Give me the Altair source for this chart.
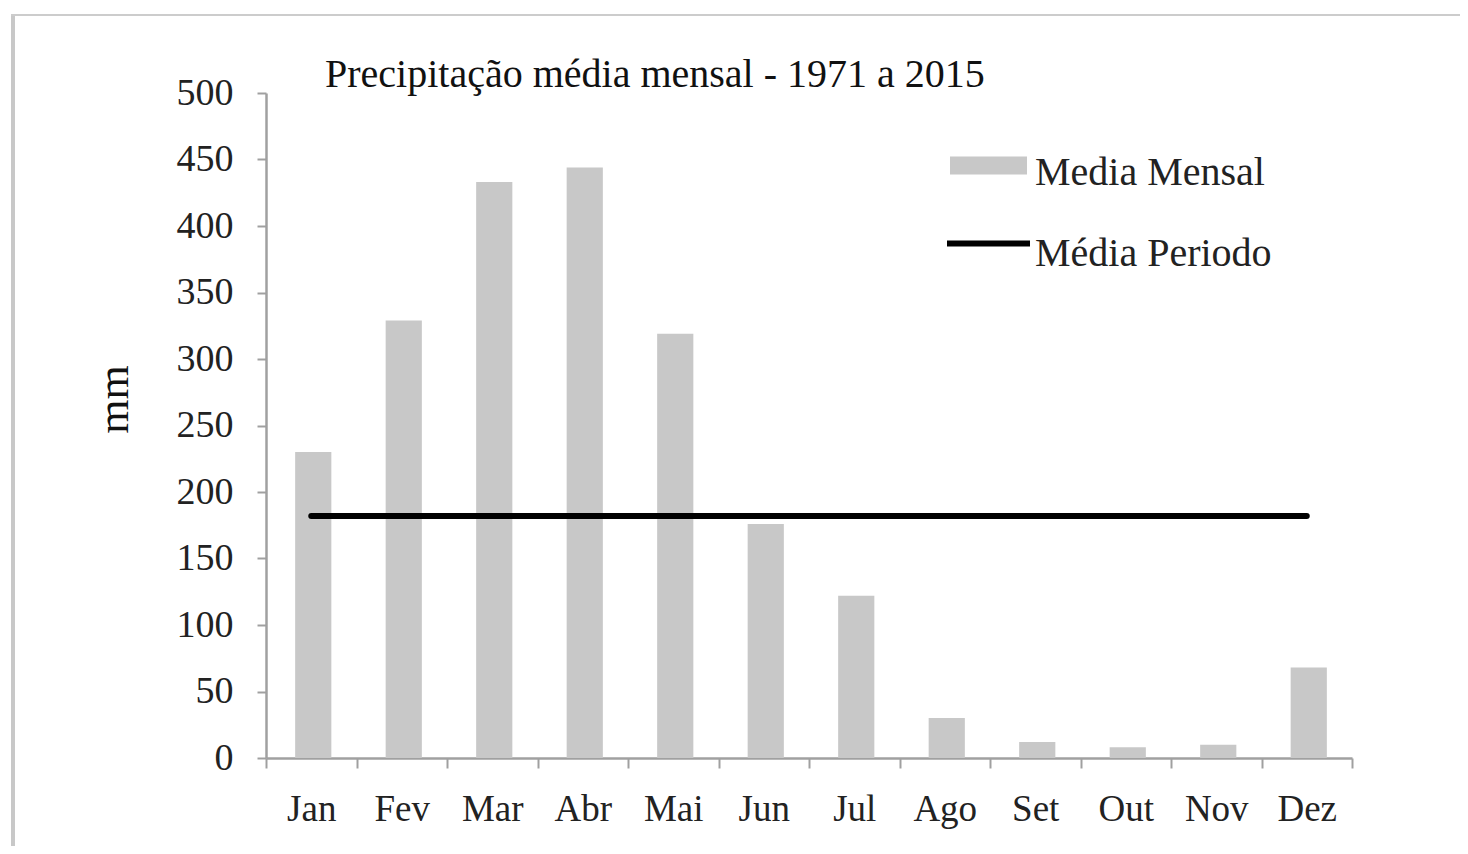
import altair as alt
import pandas as pd

months = ["Jan", "Fev", "Mar", "Abr", "Mai", "Jun", "Jul", "Ago", "Set", "Out", "Nov", "Dez"]
media_mensal = [230, 329, 433, 444, 319, 176, 122, 30, 12, 8, 10, 68]
media_periodo = [182] * 12
bar_label = "Media Mensal"
line_label = "Média Periodo"

bars_df = pd.DataFrame({"mes": months, "valor": media_mensal, "serie": bar_label})
line_df = pd.DataFrame({"mes": months, "valor": media_periodo, "serie2": line_label})

FONT = "Liberation Serif"

x_enc = alt.X("mes:N", sort=months, title=None,
              scale=alt.Scale(paddingInner=0, paddingOuter=0),
              axis=alt.Axis(labelAngle=0, labelFontSize=37, labelFont=FONT, labelColor="#222",
                            labelPadding=23, tickBand="extent", tickSize=10, tickWidth=2,
                            tickColor="#a0a0a0", domainColor="#a0a0a0", domainWidth=2.5))

y_scale = alt.Scale(domain=[0, 500], nice=False)
y_axis = alt.Axis(values=list(range(0, 501, 50)), labelFontSize=38, labelFont=FONT, labelColor="#222",
                  labelPadding=24, tickSize=9, tickWidth=2, tickColor="#a0a0a0",
                  domainColor="#a0a0a0", domainWidth=2.5, grid=False,
                  title="mm", titleFont=FONT, titleFontSize=44, titleFontWeight="normal",
                  titleColor="#111", titlePadding=40, titleY=306)

bars = alt.Chart(bars_df).mark_bar(width=alt.RelativeBandSize(0.4), xOffset=2).encode(
    x=x_enc,
    y=alt.Y("valor:Q", scale=y_scale, axis=y_axis),
    fill=alt.Fill("serie:N", scale=alt.Scale(domain=[bar_label], range=["#c8c8c8"]),
                  legend=alt.Legend(title=None, orient="none", legendX=684, legendY=41,
                                    symbolType="M-1,-0.416L1,-0.416L1,0.052L-1,0.052Z",
                                    symbolSize=5929, symbolStrokeWidth=0, labelOffset=8,
                                    labelFont=FONT, labelFontSize=40, labelColor="#222",
                                    labelLimit=400, padding=0)),
)

line = alt.Chart(line_df).mark_line(strokeWidth=6, strokeCap="round").encode(
    x=alt.X("mes:N", sort=months),
    y=alt.Y("valor:Q", scale=y_scale),
    stroke=alt.Stroke("serie2:N", scale=alt.Scale(domain=[line_label], range=["#000000"]),
                      legend=alt.Legend(title=None, orient="none", legendX=678, legendY=116,
                                        symbolType="M-1,-0.241L1,-0.241",
                                        symbolSize=6889,
                                        symbolStrokeWidth=6, labelOffset=2,
                                        labelFont=FONT, labelFontSize=40, labelColor="#222",
                                        labelLimit=400, padding=0)),
)

frame_v = alt.Chart(pd.DataFrame({"a": [0]})).mark_rule(color="#c8c8c8", strokeWidth=4).encode(
    x=alt.value(-253), y=alt.value(-78), y2=alt.value(900))
frame_h = alt.Chart(pd.DataFrame({"a": [0]})).mark_rule(color="#cccccc", strokeWidth=2).encode(
    x=alt.value(-255), x2=alt.value(1300), y=alt.value(-78))

chart = alt.layer(frame_v, frame_h, bars, line).resolve_scale(fill="independent", stroke="independent").properties(
    width=1086, height=665,
    autosize=alt.AutoSizeParams(type="none"),
    padding={"left": 258, "top": 85, "right": 108, "bottom": 88},
    title=alt.TitleParams("Precipitação média mensal - 1971 a 2015", anchor="start", dx=59,
                          font=FONT, fontSize=40, fontWeight="normal", color="#111",
                          baseline="alphabetic", offset=-114, frame="group"),
).configure(background="white", view=alt.ViewConfig(stroke=None))

chart.save("out.html", embed_options={"renderer": "svg", "actions": False})
